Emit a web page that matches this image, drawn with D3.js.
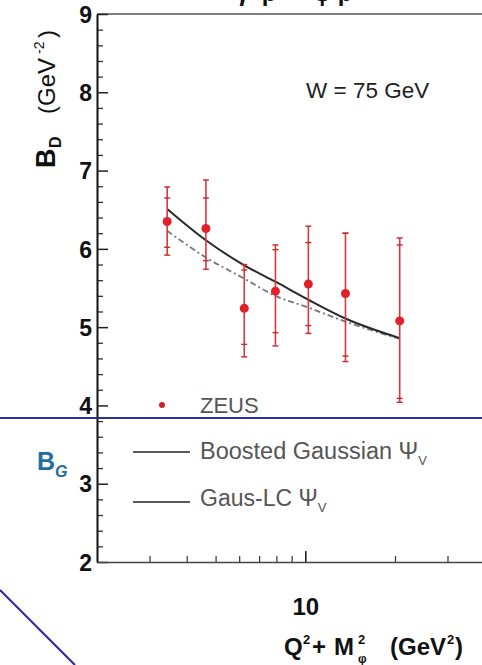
<!DOCTYPE html>
<html>
<head>
<meta charset="utf-8">
<script src="https://cdn.jsdelivr.net/npm/d3@7"></script>
<style>
  html, body { margin: 0; padding: 0; background: #fff; overflow: hidden; }
  svg { display: block; font-family: "Liberation Sans", Arial, sans-serif; }
</style>
</head>
<body>
<svg id="chart" width="482" height="665"></svg>
<script>
// ZEUS phi electroproduction slope B_D at W = 75 GeV versus Q^2 + M_phi^2
const qm2      = [3.44, 4.64, 6.24, 7.94, 10.24, 13.64, 20.74];
const zeusB    = [6.35, 6.26, 5.24, 5.46, 5.55, 5.43, 5.08];
const statHi   = [6.65, 6.65, 5.73, 5.99, 6.08, 6.20, 6.05];
const statLo   = [6.02, 5.85, 4.78, 4.93, 5.02, 4.63, 4.09];
const totalHi  = [6.79, 6.88, 5.80, 6.05, 6.29, 6.20, 6.14];
const totalLo  = [5.92, 5.74, 4.62, 4.76, 4.92, 4.56, 4.04];

// model curves evaluated at the same Q^2 + M^2 points
const boostedGaussian = [6.51, 6.11, 5.79, 5.58, 5.35, 5.11, 4.86];
const gausLC          = [6.23, 5.89, 5.62, 5.40, 5.25, 5.07, 4.85];

const yMajorTicks = [2, 3, 4, 5, 6, 7, 8, 9];
const xMajorTicks = [10];
const xMinorTicks = [3, 4, 5, 6, 7, 8, 9, 20, 30, 40];

const svg = d3.select("#chart");

const x = d3.scaleLog().domain([2, 50]).range([97, 97 + 298 * Math.log10(25)]);
const y = d3.scaleLinear().domain([2, 9]).range([562, 14]);

const yMinorTicks = d3.range(20, 91, 2).map(v => v / 10).filter(v => !Number.isInteger(v));

// title (runs off the top edge)
const title = svg.append("text")
  .attr("x", 236).attr("y", 1)
  .attr("font-size", 24).attr("font-weight", "bold").attr("fill", "#111");
title.append("tspan").text("γ");
title.append("tspan").attr("font-size", 15).attr("dy", -8).text("*");
title.append("tspan").attr("dy", 8).text(" p → φ p");

// top frame line
svg.append("line")
  .attr("x1", x(2)).attr("x2", 482)
  .attr("y1", y(9)).attr("y2", y(9))
  .attr("stroke", "#555").attr("stroke-width", 1.6);

// y axis: minor and major ticks in separate groups
const gyMinor = svg.append("g").attr("transform", `translate(${x(2)},0)`)
  .call(d3.axisLeft(y).tickValues(yMinorTicks).tickSizeInner(-6).tickSizeOuter(0).tickFormat(""));
gyMinor.select("path.domain").remove();
gyMinor.selectAll(".tick line").attr("stroke", "#333").attr("stroke-width", 1.3);

const gy = svg.append("g").attr("transform", `translate(${x(2)},0)`)
  .call(d3.axisLeft(y).tickValues(yMajorTicks).tickSizeInner(-11).tickSizeOuter(0).tickPadding(5)
    .tickFormat(d3.format("d")));
gy.selectAll("path.domain").attr("stroke", "#111").attr("stroke-width", 2);
gy.selectAll(".tick line").attr("stroke", "#222").attr("stroke-width", 1.5);
gy.selectAll(".tick text")
  .attr("font-size", 23).attr("font-weight", "bold").attr("fill", "#111")
  .attr("font-family", "'Liberation Sans', Arial, sans-serif")
  .attr("dy", "0.36em");

// x axis: minor and major ticks in separate groups
const gxMinor = svg.append("g").attr("transform", `translate(0,${y(2)})`)
  .call(d3.axisBottom(x).tickValues(xMinorTicks).tickSizeInner(-6).tickSizeOuter(0).tickFormat(""));
gxMinor.select("path.domain").remove();
gxMinor.selectAll(".tick line").attr("stroke", "#333").attr("stroke-width", 1.2);

const gx = svg.append("g").attr("transform", `translate(0,${y(2)})`)
  .call(d3.axisBottom(x).tickValues(xMajorTicks).tickSizeInner(-11).tickSizeOuter(0).tickPadding(36)
    .tickFormat(d3.format("d")));
gx.selectAll("path.domain").attr("stroke", "#444").attr("stroke-width", 1.5);
gx.selectAll(".tick line").attr("stroke", "#222").attr("stroke-width", 1.6);
gx.selectAll(".tick text")
  .attr("font-size", 24).attr("font-weight", "bold").attr("fill", "#111")
  .attr("font-family", "'Liberation Sans', Arial, sans-serif");

// x axis title: Q^2 + M_phi^2 (GeV^2)
const xt = svg.append("text")
  .attr("y", 655)
  .attr("font-size", 24).attr("font-weight", "bold").attr("fill", "#111");
xt.append("tspan").attr("x", 284).text("Q");
xt.append("tspan").attr("x", 303).attr("font-size", 13).attr("dy", -11).text("2");
xt.append("tspan").attr("x", 312).attr("dy", 11).text("+");
xt.append("tspan").attr("x", 334).text("M");
xt.append("tspan").attr("x", 358).attr("font-size", 13).attr("dy", -11).text("2");
xt.append("tspan").attr("x", 358).attr("font-size", 12).attr("dy", 19).text("φ");
xt.append("tspan").attr("x", 390).attr("dy", -8).text("(GeV");
xt.append("tspan").attr("x", 447).attr("font-size", 13).attr("dy", -11).text("2");
xt.append("tspan").attr("x", 455).attr("dy", 11).text(")");

// y axis title: B_D (GeV^-2)
const yt = svg.append("text")
  .attr("transform", "translate(55,168) rotate(-90)")
  .attr("font-size", 24).attr("fill", "#111");
yt.append("tspan").attr("x", 0).attr("font-size", 27).attr("font-weight", "bold").text("B");
yt.append("tspan").attr("x", 20).attr("font-size", 16).attr("font-weight", "bold").attr("dy", 6).text("D");
yt.append("tspan").attr("x", 54).attr("dy", -6).text("(GeV");
yt.append("tspan").attr("x", 114).attr("font-size", 14).attr("dy", -11).text("-2");
yt.append("tspan").attr("x", 130).attr("dy", 11).text(")");

// W label
svg.append("text")
  .attr("x", 306).attr("y", 98)
  .attr("font-size", 22.5).attr("fill", "#222")
  .text("W = 75 GeV");

// model curves
const curve = vals => d3.line()
  .x((d, i) => x(qm2[i]))
  .y(d => y(d))
  .curve(d3.curveMonotoneX)(vals);

svg.append("path")
  .attr("d", curve(gausLC))
  .attr("fill", "none").attr("stroke", "#777").attr("stroke-width", 1.8)
  .attr("stroke-dasharray", "6,3,2,3");

svg.append("path")
  .attr("d", curve(boostedGaussian))
  .attr("fill", "none").attr("stroke", "#2a2a2a").attr("stroke-width", 2);

// ZEUS points with statistical and total errors
const pts = qm2.map((q, i) => ({
  q, b: zeusB[i], sHi: statHi[i], sLo: statLo[i], tHi: totalHi[i], tLo: totalLo[i]
}));
const pg = svg.append("g").selectAll("g").data(pts).join("g")
  .attr("transform", d => `translate(${x(d.q)},0)`);
pg.append("line")
  .attr("y1", d => y(d.tLo)).attr("y2", d => y(d.tHi))
  .attr("stroke", "#d9383d").attr("stroke-width", 1.6);
["tHi", "tLo", "sHi", "sLo"].forEach(k => {
  pg.append("line")
    .attr("x1", -3).attr("x2", 3)
    .attr("y1", d => y(d[k])).attr("y2", d => y(d[k]))
    .attr("stroke", "#c8282d").attr("stroke-width", 1.4);
});
pg.append("circle")
  .attr("cy", d => y(d.b)).attr("r", 4.5)
  .attr("fill", "#e3202a");

// legend
svg.append("circle").attr("cx", 162).attr("cy", 405).attr("r", 3).attr("fill", "#d0202a");
svg.append("text").attr("x", 200).attr("y", 413)
  .attr("font-size", 22).attr("fill", "#555").text("ZEUS");

svg.append("line").attr("x1", 133).attr("x2", 190).attr("y1", 452).attr("y2", 452)
  .attr("stroke", "#222").attr("stroke-width", 1.6);
const l1 = svg.append("text").attr("x", 200).attr("y", 459)
  .attr("font-size", 23.5).attr("fill", "#555");
l1.append("tspan").text("Boosted Gaussian Ψ");
l1.append("tspan").attr("font-size", 13).attr("dy", 6).text("V");

svg.append("line").attr("x1", 133).attr("x2", 190).attr("y1", 502).attr("y2", 502)
  .attr("stroke", "#222").attr("stroke-width", 1.6);
const l2 = svg.append("text").attr("x", 200).attr("y", 506)
  .attr("font-size", 23).attr("fill", "#555");
l2.append("tspan").text("Gaus-LC Ψ");
l2.append("tspan").attr("font-size", 13).attr("dy", 6).text("V");

// overlay annotation: B_G marker and separator lines
svg.append("line").attr("x1", 0).attr("x2", 482).attr("y1", 418).attr("y2", 418)
  .attr("stroke", "#2e2e9c").attr("stroke-width", 2);
svg.append("line").attr("x1", 0).attr("x2", 75).attr("y1", 590).attr("y2", 665)
  .attr("stroke", "#2e2e9c").attr("stroke-width", 2.2);

const bg = svg.append("text").attr("x", 37).attr("y", 470)
  .attr("font-size", 25).attr("font-weight", "bold").attr("fill", "#1f6f9f");
bg.append("tspan").text("B");
bg.append("tspan").attr("font-size", 16).attr("font-style", "italic").attr("dy", 7).text("G");
</script>
</body>
</html>
